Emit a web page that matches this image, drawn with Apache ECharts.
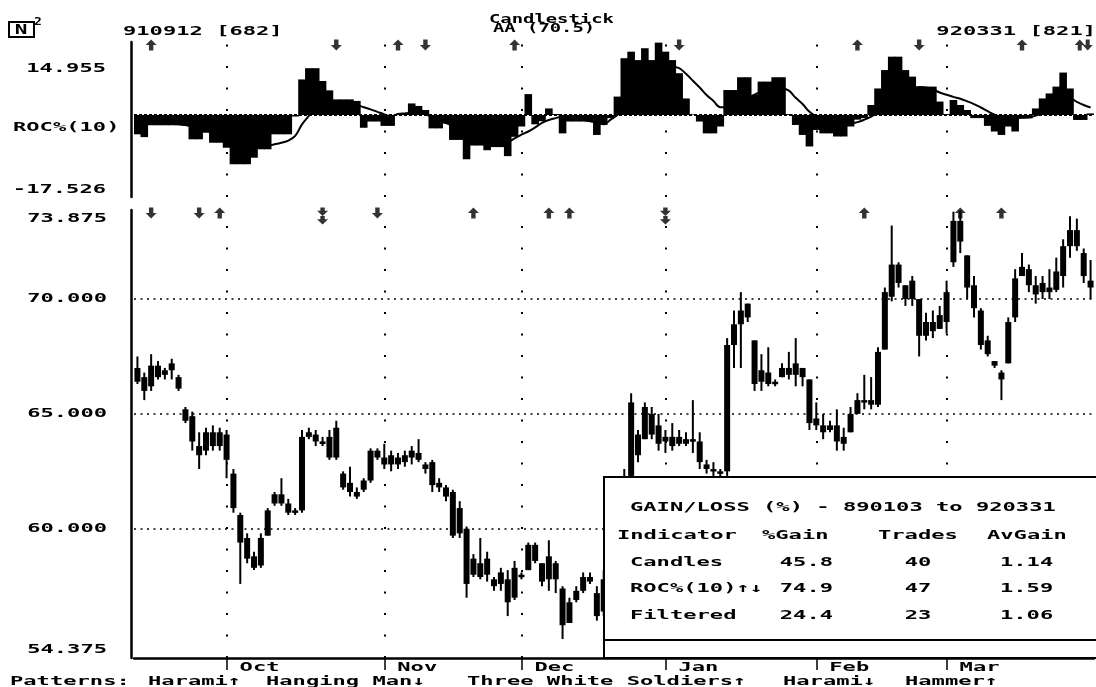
<!DOCTYPE html>
<html>
<head>
<meta charset="utf-8">
<script src="https://cdn.jsdelivr.net/npm/echarts@6/dist/echarts.min.js"></script>
<style>
html,body{margin:0;padding:0;background:#fff;}
#c{width:1096px;height:687px;}
</style>
</head>
<body>
<div id="c"></div>
<script>
// ---------------- DATA ----------------
const FIRST_BAR = 682, LAST_BAR = 821;
const FIRST_DATE = '910912', LAST_DATE = '920331';
const SYMBOL = 'AA';
const TITLE = 'Candlestick';
const barNumbers = [];
for (let b = FIRST_BAR; b <= LAST_BAR; b++) barNumbers.push(String(b));

// [open, close, low, high]
const ohlc = [
 [66.4,67.0,66.3,67.5],[66.6,66.0,65.6,66.8],[66.2,67.1,66.0,67.6],[67.1,66.6,66.5,67.3],[66.7,66.9,66.5,67.0],
 [66.9,67.2,66.5,67.4],[66.6,66.1,66.0,66.7],[65.2,64.7,64.6,65.3],[64.9,63.8,63.4,65.1],[63.6,63.2,62.6,64.2],
 [63.4,64.2,63.2,64.4],[64.2,63.6,63.4,64.5],[63.6,64.2,63.4,64.4],[64.1,63.0,62.2,64.3],[62.4,60.9,60.7,62.6],
 [60.6,59.4,57.6,60.7],[59.6,58.7,58.5,59.8],[58.8,58.3,58.2,59.0],[58.4,59.6,58.3,59.8],[59.7,60.8,59.7,60.9],
 [61.1,61.5,61.0,61.6],[61.5,61.1,61.0,62.2],[61.1,60.7,60.6,61.3],[60.7,60.8,60.6,60.9],[60.8,64.0,60.7,64.3],
 [64.0,64.2,63.9,64.4],[64.1,63.8,63.6,64.3],[63.8,63.7,63.6,64.0],[64.0,63.1,63.0,64.3],[64.4,63.1,63.0,64.7],
 [62.4,61.8,61.7,62.5],[62.0,61.6,61.4,62.7],[61.6,61.4,61.3,61.8],[61.7,62.1,61.6,62.2],[62.1,63.4,62.0,63.5],
 [63.4,63.1,63.0,63.5],[63.1,62.8,62.6,63.7],[62.8,63.2,62.5,63.4],[63.1,62.8,62.6,63.3],[62.9,63.2,62.7,63.4],
 [63.1,63.4,62.8,63.6],[63.3,63.0,62.9,63.9],[62.8,62.6,62.4,62.9],[62.9,61.9,61.6,63.0],[62.0,61.8,61.6,62.2],
 [61.8,61.4,61.2,61.9],[61.6,59.7,59.6,61.7],[59.8,60.9,59.6,61.2],[60.0,57.6,57.0,60.1],[58.0,58.7,57.9,58.9],
 [58.5,57.9,57.8,59.6],[58.0,58.7,57.7,59.0],[57.8,57.5,57.3,57.9],[57.6,58.1,57.3,58.3],[57.8,56.8,56.2,58.2],
 [57.0,58.3,56.9,58.6],[58.0,57.9,57.8,58.1],[58.2,59.3,58.2,59.4],[59.3,58.6,58.5,59.4],[58.5,57.7,57.5,58.5],
 [57.8,58.8,57.3,59.5],[58.5,57.8,57.2,58.6],[57.4,55.8,55.2,57.5],[55.9,56.8,55.9,57.0],[56.9,57.3,56.8,57.5],
 [57.3,57.9,57.2,58.1],[57.9,57.7,57.6,58.1],[57.2,56.2,56.0,57.5],[56.4,57.8,56.2,58.2],[57.8,59.0,57.6,59.4],
 [59.0,60.6,58.8,61.0],[60.6,62.3,60.4,62.6],[62.3,65.5,62.0,65.9],[64.1,63.2,62.9,64.3],[63.9,65.3,63.9,65.5],
 [65.0,64.1,63.9,65.3],[64.5,63.7,63.4,65.0],[63.8,64.0,63.3,64.3],[64.0,63.6,63.4,64.6],[63.7,64.0,63.6,64.3],
 [63.9,63.7,63.6,64.2],[63.8,63.9,63.3,65.6],[63.8,62.9,62.6,64.2],[62.8,62.6,62.4,63.0],[62.6,62.5,62.3,62.9],
 [62.5,62.4,62.3,62.6],[62.5,68.0,62.3,68.3],[68.0,68.9,67.0,69.5],[68.9,69.5,67.0,70.3],[69.8,69.2,69.0,69.8],
 [68.2,66.3,66.0,68.2],[66.4,66.9,66.0,67.6],[66.8,66.3,66.2,67.9],[66.3,66.4,66.2,66.5],[66.6,67.0,66.6,67.2],
 [67.0,66.7,66.5,67.7],[66.7,67.2,66.2,68.3],[67.0,66.6,66.2,67.0],[66.5,64.6,64.3,66.5],[64.8,64.5,64.3,65.5],
 [64.5,64.2,63.9,65.0],[64.3,64.5,64.2,64.7],[64.5,63.8,63.4,65.2],[63.7,64.0,63.4,64.4],[64.2,65.0,64.2,65.3],
 [65.0,65.6,65.0,65.9],[65.5,65.6,65.2,66.7],[65.6,65.4,65.2,66.6],[65.4,67.7,65.3,67.9],[67.8,70.3,67.8,70.5],
 [70.1,71.5,69.9,73.2],[71.5,70.7,70.5,71.6],[70.6,70.0,69.7,70.6],[70.0,70.8,69.7,71.0],[70.0,68.4,67.5,70.0],
 [68.4,69.0,68.2,69.4],[69.0,68.6,68.3,69.5],[68.7,69.3,68.7,69.7],[69.0,70.3,68.5,70.8],[71.6,73.4,71.4,73.8],
 [73.4,72.5,72.0,73.85],[71.9,70.5,70.0,71.9],[70.6,69.6,69.2,71.0],[69.5,68.0,67.8,69.6],[68.2,67.6,67.5,68.4],
 [67.3,67.1,67.0,67.3],[66.8,66.5,65.6,66.9],[67.2,69.0,67.2,69.2],[69.2,70.9,69.0,71.3],[71.0,71.4,71.0,72.0],
 [71.3,70.6,70.3,71.5],[70.6,70.2,69.8,71.0],[70.3,70.7,70.0,71.0],[70.5,70.3,70.0,71.3],[70.4,71.2,70.3,71.8],
 [71.0,72.3,70.5,72.6],[72.3,73.0,71.8,73.6],[73.0,72.3,72.1,73.5],[72.0,71.0,70.7,72.2],[70.8,70.5,70.0,71.7]
];

// ROC%(10) histogram
const roc = [
 -6.2,-7.1,-3.3,-3.3,-3.3,-3.3,-3.3,-3.5,-7.8,-7.8,
 -5.7,-8.9,-8.9,-10.5,-15.8,-15.8,-15.8,-13.7,-11.0,-11.0,
 -6.2,-6.2,-6.2,-0.5,11.4,15.0,15.0,10.9,7.9,5.0,
 5.0,5.0,4.5,-4.1,-2.1,-2.1,-3.5,-3.5,0.3,0.3,
 3.7,2.9,1.6,-4.3,-4.3,-2.7,-8.0,-8.0,-14.2,-9.8,
 -9.8,-11.3,-10.3,-10.3,-13.2,-7.0,-3.7,6.7,-3.0,-2.0,
 2.1,0.3,-5.9,-2.1,-2.1,-2.1,-2.1,-6.4,-3.2,-1.0,
 5.9,18.2,20.3,17.6,21.4,17.6,23.2,20.3,17.6,13.4,
 5.3,0.2,-2.1,-5.9,-5.9,-3.7,8.0,8.0,12.1,12.1,
 6.4,10.7,10.7,12.1,12.1,0.3,-3.2,-6.4,-10.1,-4.8,
 -5.9,-5.9,-6.9,-6.9,-3.7,-1.5,-1.0,3.2,8.5,14.4,
 18.7,18.7,14.4,12.3,9.1,9.1,9.1,4.3,0.3,4.8,
 3.2,1.6,-1.0,-1.0,-3.5,-5.3,-6.4,-3.7,-5.3,-1.1,
 -1.1,2.1,5.3,6.9,9.1,13.6,8.5,-1.6,-1.6,0.5
];

// smoothed ROC line
const rocAvg = [
 -1.0,-1.5,-2.0,-2.3,-2.6,-2.8,-3.0,-3.2,-3.8,-4.4,
 -5.0,-5.6,-6.2,-7.0,-7.8,-8.5,-9.2,-9.6,-9.9,-9.8,
 -9.4,-8.9,-8.2,-6.7,-3.0,-0.3,2.0,3.5,4.2,4.3,
 4.0,3.7,3.2,2.5,1.8,1.0,0.2,-0.4,0.3,0.5,
 0.6,0.5,0.2,-0.8,-1.8,-2.6,-3.5,-4.5,-5.5,-6.3,
 -7.0,-7.6,-8.2,-8.6,-8.6,-7.5,-6.3,-5.3,-4.0,-2.5,
 -1.6,-1.0,-0.5,-0.8,-1.2,-1.6,-2.0,-2.4,-3.0,-1.5,
 0.0,1.5,3.0,5.0,7.0,9.0,11.0,13.0,15.5,15.0,
 13.2,11.0,8.8,6.4,4.5,2.5,2.5,3.5,4.5,5.5,
 6.5,7.5,8.0,8.5,8.5,7.8,5.5,3.5,1.0,-0.5,
 -1.5,-2.2,-2.8,-3.2,-2.8,-2.3,-1.5,-0.5,1.0,2.5,
 4.0,5.5,7.0,8.3,9.0,8.8,8.2,7.2,6.5,5.8,
 5.2,4.4,3.5,2.4,1.2,0.1,-0.6,-0.9,-1.0,-0.9,
 -0.7,-0.2,0.6,1.8,3.0,4.4,5.3,4.2,3.2,2.4
];

const priceTicks = [73.875, 70, 65, 60, 54.375];
const priceTickLabels = ['73.875', '70.000', '65.000', '60.000', '54.375'];
const priceGridLevels = [70, 65, 60];
const rocTicks = [14.955, -17.526];
const rocTickLabels = ['14.955', '-17.526'];
const rocName = 'ROC%(10)';
const monthStartBars = [695, 718, 738, 759, 781, 800];
const monthNames = ['Oct', 'Nov', 'Dec', 'Jan', 'Feb', 'Mar'];
const rocSignalBars = [684, 711, 720, 724, 737, 761, 787, 796, 811, 820];
const rocSignalDirs = ['up','down','up','down','up','down','up','down','up','both'];
const patternSignalBars = [684, 691, 694, 709, 717, 731, 742, 745, 759, 788, 802, 808];
const patternSignalDirs = ['down','down','up','down2','down','up','up','up','down2','up','up','up'];
const patternNames = ['Harami\u2191', 'Hanging Man\u2193', 'Three White Soldiers\u2191', 'Harami\u2193', 'Hammer\u2191'];
const gainPeriod = ['890103', '920331'];
const tableHeaders = ['Indicator', '%Gain', 'Trades', 'AvGain'];
const tableIndicators = ['Candles', 'ROC%(10)\u2191\u2193', 'Filtered'];
const tableGain = ['45.8', '74.9', '24.4'];
const tableTrades = ['40', '47', '23'];
const tableAvGain = ['1.14', '1.59', '1.06'];

// ---------------- LAYOUT / STYLE ----------------
const ROC_MIN = -26.3, ROC_MAX = 23.4;
const ARROW = {
  up: 'path://M5,0L10,5L7,5L7,10L3,10L3,5L0,5Z',
  down: 'path://M3,0L7,0L7,5L10,5L5,10L0,5L3,5Z',
  down2: 'path://M3,0L7,0L7,3L10,3L5,8L0,3L3,3Z M3,8L7,8L7,11L10,11L5,16L0,11L3,11Z',
  both: 'path://M5,0L10,5L7,5L7,10L3,10L3,5L0,5Z M11,0L15,0L15,5L18,5L13,10L8,5L11,5Z'
};
const ARROW_SIZE = { up: [11, 11], down: [11, 11], down2: [11, 17], both: [18, 11] };

const idxOf = b => b - FIRST_BAR;
const monthIdx = monthStartBars.map(idxOf);

function signalData(bars, dirs, yVal, dy) {
  return bars.map((b, k) => ({
    value: [idxOf(b), yVal],
    symbol: ARROW[dirs[k]],
    symbolSize: ARROW_SIZE[dirs[k]],
    symbolOffset: [0, dirs[k] === 'down2' ? dy + 3 : dy]
  }));
}

const monthLines = monthIdx.map(i => ({ xAxis: barNumbers[i], lineStyle: { type: [2, 19.5], width: 2, color: '#000' } }));
const levelLines = priceGridLevels.map(v => ({ yAxis: v, lineStyle: { type: [2, 4.5], width: 1.5, color: '#000' } }));

const axisBlack = { show: true, onZero: false, lineStyle: { color: '#000', width: 2.5 } };

// candle renderer (bodies and wicks placed through the axis scales)
function renderCandle(params, api) {
  const i = api.value(0);
  const o = api.coord([i, api.value(1)]);
  const c = api.coord([i, api.value(2)]);
  const l = api.coord([i, api.value(3)]);
  const h = api.coord([i, api.value(4)]);
  const w = 6;
  const top = Math.min(o[1], c[1]);
  const hgt = Math.max(2.5, Math.abs(o[1] - c[1]));
  return {
    type: 'group',
    children: [
      { type: 'line', shape: { x1: h[0], y1: h[1], x2: l[0], y2: l[1] }, style: { stroke: '#000', lineWidth: 2 } },
      { type: 'rect', shape: { x: o[0] - w / 2, y: top, width: w, height: hgt }, style: { fill: '#000' } }
    ]
  };
}

const option = {
  animation: false,
  backgroundColor: '#fff',
  grid: [
    { left: 134, top: 42, width: 960, height: 155 },
    { left: 134, top: 210, width: 960, height: 448 }
  ],
  xAxis: [
    { type: 'category', gridIndex: 0, data: barNumbers, boundaryGap: true, show: false },
    { type: 'category', gridIndex: 1, data: barNumbers, boundaryGap: true,
      axisLine: axisBlack,
      axisTick: { show: true, alignWithLabel: true, length: 12,
        interval: (i, v) => monthStartBars.indexOf(Number(v)) >= 0,
        lineStyle: { color: '#000', width: 1.5 } },
      axisLabel: { show: false }, splitLine: { show: false } }
  ],
  yAxis: [
    { type: 'value', gridIndex: 0, min: ROC_MIN, max: ROC_MAX, offset: 3,
      axisLine: axisBlack, axisTick: { show: false }, axisLabel: { show: false }, splitLine: { show: false } },
    { type: 'value', gridIndex: 1, min: priceTicks[priceTicks.length - 1], max: priceTicks[0], offset: 3,
      axisLine: axisBlack, axisTick: { show: false }, axisLabel: { show: false }, splitLine: { show: false } }
  ],
  series: [
    { type: 'bar', xAxisIndex: 0, yAxisIndex: 0, data: roc, barWidth: 7.6, barCategoryGap: '0%',
      itemStyle: { color: '#000' }, silent: true,
      markLine: { silent: true, symbol: ['none', 'none'], label: { show: false },
        data: monthLines.concat([{ yAxis: 0, lineStyle: { type: [3, 2], width: 2, color: '#000' } }]) } },
    { type: 'line', xAxisIndex: 0, yAxisIndex: 0, data: rocAvg, smooth: 0.4, symbol: 'none',
      lineStyle: { color: '#000', width: 2 }, z: 3, silent: true },
    { type: 'scatter', xAxisIndex: 0, yAxisIndex: 0, data: signalData(rocSignalBars, rocSignalDirs, ROC_MAX, 3),
      itemStyle: { color: '#000' }, z: 5, silent: true },
    { type: 'custom', name: 'candles', xAxisIndex: 1, yAxisIndex: 1,
      data: ohlc.map((d, i) => [i, d[0], d[1], d[2], d[3]]),
      encode: { x: 0, y: [1, 2, 3, 4] },
      renderItem: renderCandle, silent: true, z: 3 },
    { type: 'line', xAxisIndex: 1, yAxisIndex: 1, data: [], silent: true,
      markLine: { silent: true, symbol: ['none', 'none'], label: { show: false }, data: monthLines.concat(levelLines) } },
    { type: 'scatter', xAxisIndex: 1, yAxisIndex: 1, data: signalData(patternSignalBars, patternSignalDirs, priceTicks[0], 3),
      itemStyle: { color: '#000' }, z: 5, silent: true }
  ]
};

const chart = echarts.init(document.getElementById('c'), null, { renderer: 'canvas' });
chart.setOption(option);

// ---------------- TEXT (DOS-like wide bold font) ----------------
const FONT = 'bold 13px "DejaVu Sans Mono", "Liberation Mono", monospace';
const SX = 1.7;
function T(x, y, s, align, vAlign, sx, font) {
  return { type: 'text', x: x, y: y, scaleX: sx || SX, z: 120,
    style: { text: s, font: font || FONT, fill: '#000',
      textAlign: align || 'left', align: align || 'left',
      textVerticalAlign: vAlign || 'middle', verticalAlign: vAlign || 'middle' } };
}
const px = (grid, i, v) => chart.convertToPixel({ gridIndex: grid }, [i, v]);

const g = [];
// header
g.push({ type: 'rect', z: 120, shape: { x: 9, y: 22, width: 25, height: 15 }, style: { fill: '#fff', stroke: '#000', lineWidth: 2 } });
g.push(T(21, 30, 'N', 'center', 'middle', 1.5, 'bold 14px "DejaVu Sans Mono", monospace'));
g.push(T(34, 22, '2', 'left', 'middle', 1.3, 'bold 10px "DejaVu Sans Mono", monospace'));
g.push(T(123, 32, FIRST_DATE + ' [' + FIRST_BAR + ']'));
g.push(T(1096, 32, LAST_DATE + ' [' + LAST_BAR + ']', 'right'));
g.push(T(489, 20, TITLE, 'left', 'middle', 1.45));
g.push(T(493, 29, SYMBOL + ' (' + ohlc[ohlc.length - 1][1].toFixed(1) + ')', 'left', 'middle', 1.45));

// ROC axis labels
g.push(T(106, px(0, 0, rocTicks[0])[1], rocTickLabels[0], 'right'));
g.push(T(106, px(0, 0, ROC_MIN)[1] - 1, rocTickLabels[1], 'right', 'bottom'));
g.push(T(13, 128, rocName));

// price axis labels
priceTicks.forEach((v, k) => {
  const y = px(1, 0, v)[1];
  const last = priceTicks.length - 1;
  if (k === 0) g.push(T(107, y + 2, priceTickLabels[k], 'right', 'top'));
  else if (k === last) g.push(T(107, y - 2, priceTickLabels[k], 'right', 'bottom'));
  else g.push(T(107, y, priceTickLabels[k], 'right', 'middle'));
});

// month labels
monthIdx.forEach((i, k) => {
  const p = px(1, i, priceTicks[priceTicks.length - 1]);
  g.push(T(p[0] + 13, 668, monthNames[k]));
});

// patterns footer
const patternX = [148, 266, 467, 783, 905];
g.push(T(10, 682, 'Patterns:'));
patternNames.forEach((s, k) => g.push(T(patternX[k], 682, s)));

// gain/loss table
g.push({ type: 'rect', z: 110, shape: { x: 604, y: 477, width: 494, height: 181 }, style: { fill: '#fff', stroke: '#000', lineWidth: 2 } });
g.push({ type: 'line', z: 111, shape: { x1: 604, y1: 640, x2: 1096, y2: 640 }, style: { stroke: '#000', lineWidth: 2 } });
g.push(T(630, 508, 'GAIN/LOSS (%) - ' + gainPeriod[0] + ' to ' + gainPeriod[1]));
const hdrX = [617, 762, 878, 987];
tableHeaders.forEach((s, k) => g.push(T(hdrX[k], 536, s)));
const rowY = [563, 589, 616];
tableIndicators.forEach((s, r) => {
  g.push(T(630, rowY[r], s));
  g.push(T(833, rowY[r], tableGain[r], 'right'));
  g.push(T(918, rowY[r], tableTrades[r], 'center'));
  g.push(T(1000, rowY[r], tableAvGain[r]));
});

chart.setOption({ graphic: { elements: g } });
</script>
</body>
</html>
